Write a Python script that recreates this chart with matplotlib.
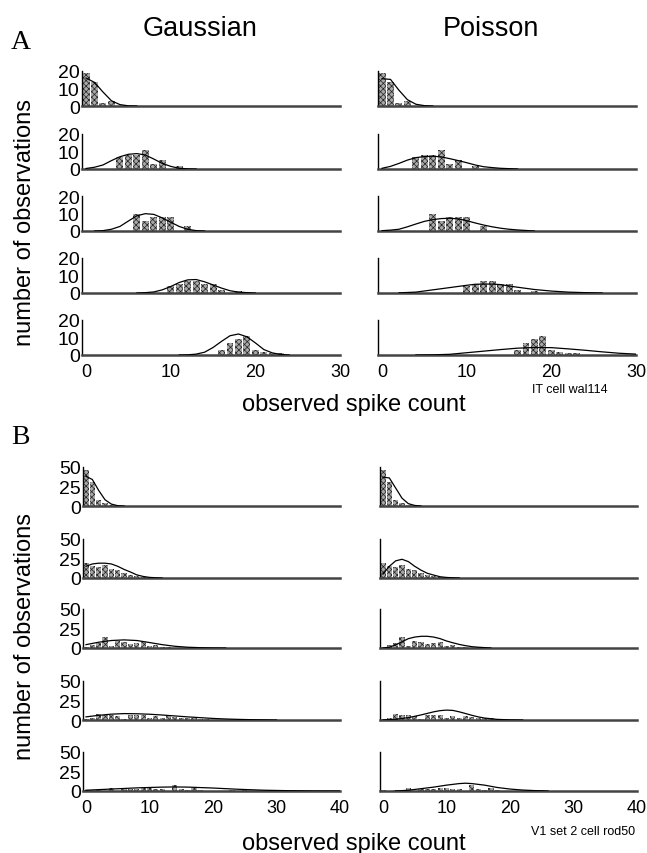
import matplotlib
matplotlib.use("Agg")
import matplotlib.pyplot as plt

W, H = 647, 854

# ---- panel A: IT cell wal114, spike-count histograms (same counts in both columns)
A_BINS = [
    [0, 1, 2, 3],
    [4, 5, 6, 7, 8, 9, 11],
    [6, 7, 8, 9, 10, 12],
    [10, 11, 12, 13, 14, 15, 16, 18],
    [16, 17, 18, 19, 20, 21, 22, 23],
]
A_COUNTS = [
    [19, 14, 2, 3],
    [7, 8, 8, 11, 3, 5, 2],
    [10, 6, 8, 8, 8, 3],
    [4, 5, 7, 7, 5, 5, 2, 1],
    [3, 7, 9, 11, 3, 2, 1, 1],
]
# fitted curves
A_GAUSS_X = [
    [0, 1, 2, 3, 4, 5, 6],
    [0, 1, 2, 3, 4, 5, 6, 7, 8, 9, 10, 11, 12, 13],
    [1, 2, 3, 4, 5, 6, 7, 8, 9, 10, 11, 12, 13, 14],
    [6, 7, 8, 9, 10, 11, 12, 13, 14, 15, 16, 17, 18, 19, 20],
    [11, 12, 13, 14, 15, 16, 17, 18, 19, 20, 21, 22, 23, 24],
]
A_GAUSS_Y = [
    [16, 13.5, 8, 3, 0.8, 0.1, 0],
    [0.3, 1, 2.3, 4.8, 7, 8.4, 8.8, 8, 5.7, 3.2, 1.5, 0.4, 0.1, 0],
    [0, 0.2, 1, 2.6, 5.7, 8.7, 9.9, 9.5, 7.5, 5, 2.6, 1, 0.2, 0],
    [0, 0.2, 0.6, 1.8, 3.7, 6, 7.5, 7.7, 6.4, 4.6, 2.8, 1.3, 0.5, 0.2, 0],
    [0, 0.1, 0.5, 1.6, 4.3, 7.8, 11, 12, 10.4, 6.9, 3.1, 1.2, 0.3, 0],
]
A_POIS_X = [
    [0, 1, 2, 3, 4, 5, 6],
    [0, 1, 2, 3, 4, 5, 6, 7, 8, 9, 10, 11, 12, 13, 14, 15, 16],
    [0, 1, 2, 3, 4, 5, 6, 7, 8, 9, 10, 11, 12, 13, 14, 15, 16, 17, 18],
    [2, 4, 6, 8, 10, 11, 12, 13, 14, 15, 16, 18, 20, 22, 24, 26],
    [4, 6, 8, 10, 12, 14, 16, 18, 20, 22, 24, 26, 28, 30],
]
A_POIS_Y = [
    [15.6, 15.2, 9, 3.6, 1, 0.2, 0],
    [0.4, 1.5, 3.2, 5.1, 6.5, 7.1, 7.3, 6.9, 5.9, 4.8, 3.6, 2.3, 1.3, 0.8, 0.4, 0.2, 0],
    [0.2, 0.5, 1, 2.4, 4, 5.5, 6.5, 7.1, 7.3, 6.9, 5.9, 4.6, 3.4, 2.4, 1.6, 1, 0.6, 0.3, 0],
    [0.1, 0.5, 1.8, 3.1, 4.4, 5, 5.1, 5.1, 4.8, 4, 3.3, 2, 1.1, 0.5, 0.2, 0],
    [0, 0.1, 0.4, 1.3, 2.2, 3.1, 3.9, 4.3, 4.2, 3.5, 2.7, 1.8, 1.0, 0.5],
]

# ---- panel B: V1 set 2 cell rod50
B_BINS = [
    [0, 1, 2, 3, 4],
    [0, 1, 2, 3, 4, 5, 6, 7, 8, 9],
    [0, 1, 2, 3, 4, 5, 6, 7, 8, 9, 10, 11, 12, 13],
    [0, 1, 2, 3, 4, 5, 6, 7, 8, 9, 10, 11, 12, 13, 14, 15, 16, 17, 18, 19],
    [0, 2, 4, 6, 7, 8, 9, 10, 11, 12, 14, 15, 16, 17, 18, 23, 25],
]
B_COUNTS = [
    [46, 31, 8, 4, 1],
    [19, 15, 14, 17, 12, 10, 7, 4, 2, 1],
    [1, 4, 6, 14, 2, 9, 8, 5, 6, 8, 2, 4, 1, 1],
    [1, 3, 8, 7, 7, 5, 1, 7, 7, 7, 3, 5, 3, 5, 4, 2, 2, 2, 1, 1],
    [1, 1, 4, 2, 3, 3, 4, 4, 3, 2, 8, 3, 1, 4, 1, 1, 1],
]
B_GAUSS_X = [
    [0, 1, 2, 3, 4, 5, 6],
    [0, 1, 2, 3, 4, 5, 6, 7, 8, 9, 10, 11, 12],
    [0, 2, 4, 6, 8, 10, 12, 14, 16, 18, 20, 22],
    [0, 2, 4, 6, 8, 10, 12, 14, 16, 18, 20, 22, 24, 26, 28, 30],
    [0, 4, 8, 12, 14, 16, 20, 24, 28, 32, 36, 40],
]
B_GAUSS_Y = [
    [38, 34, 20, 8, 2.4, 0.4, 0],
    [15, 18, 19, 19, 18, 15, 11, 7.7, 4, 2, 0.8, 0.3, 0],
    [4.3, 7.4, 9.6, 10.4, 9.6, 7, 4.3, 2.2, 1, 0.4, 0.1, 0],
    [4, 6, 7.5, 8.2, 8, 7.4, 6.4, 5.2, 4, 3, 2, 1.3, 0.8, 0.4, 0.2, 0],
    [1, 2.5, 4, 5, 5.2, 5, 3.8, 2.2, 1, 0.4, 0.1, 0],
]
B_POIS_X = [
    [0, 1, 2, 3, 4, 5, 6],
    [0, 1, 2, 3, 4, 5, 6, 7, 8, 9, 10, 11, 12],
    [0, 1, 2, 3, 4, 5, 6, 7, 8, 9, 10, 11, 12, 13, 14, 15, 16, 17],
    [0, 2, 4, 6, 8, 9, 10, 11, 12, 13, 14, 15, 16, 18, 20, 22],
    [2, 4, 6, 8, 10, 12, 13, 14, 16, 18, 20, 22, 24, 26],
]
B_POIS_Y = [
    [37, 36, 23, 10, 3, 0.7, 0],
    [5, 15, 22, 24, 21, 15, 10, 6, 3.7, 1.6, 0.7, 0.3, 0],
    [0, 1, 4, 8, 12, 14, 15, 15, 14, 12, 9, 6.7, 4.6, 3, 1.7, 1, 0.5, 0],
    [0.1, 1, 3, 6.5, 10.5, 12, 12.7, 12.3, 10.5, 8.3, 6, 4, 2.5, 0.8, 0.2, 0],
    [0, 1, 3, 5, 7.5, 9.5, 10, 9.5, 7.5, 4.5, 2.5, 1.2, 0.5, 0],
]

A_YTICKS = [0, 10, 20]
B_YTICKS = [0, 25, 50]
A_XTICKS = [0, 10, 20, 30]
B_XTICKS = [0, 10, 20, 30, 40]

SANS = "Liberation Sans"
SERIF = "Liberation Serif"
plt.rcParams["font.family"] = SANS
plt.rcParams["hatch.linewidth"] = 0.5
plt.rcParams["hatch.color"] = "#222222"


def px_axes(fig, left, base, width, height):
    """Axes placed in pixel coordinates (base = y of the x axis from the top)."""
    return fig.add_axes([left / W, 1 - base / H, width / W, height / H])


def draw_panel(ax, bins, counts, cx, cy, xmax, ymax, yticks, xticks,
               show_y, show_x):
    ax.bar(bins, counts, width=0.82, color="#a8a8a8", edgecolor="#222222",
           hatch="xxxxxx", lw=0, zorder=2)
    ax.plot(cx, cy, color="black", lw=0.9, zorder=3)
    ax.set_xlim(-0.5, xmax)
    ax.set_ylim(0, ymax)
    for s in ("top", "right"):
        ax.spines[s].set_visible(False)
    ax.spines["left"].set_linewidth(1.0)
    ax.spines["bottom"].set_linewidth(1.8)
    ax.spines["bottom"].set_color("#444444")
    ax.set_yticks(yticks)
    ax.set_xticks(xticks)
    ax.tick_params(length=0)
    ax.tick_params(axis="y", pad=1.5, labelsize=14)
    ax.tick_params(axis="x", pad=6, labelsize=13)
    if not show_y:
        ax.set_yticklabels([])
    if not show_x:
        ax.set_xticklabels([])
    ax.patch.set_alpha(0)


fig = plt.figure(figsize=(W / 100, H / 100), dpi=100)

# panel A rows
a_base = [107, 170, 232, 294, 356]
for i, base in enumerate(a_base):
    last = i == len(a_base) - 1
    ax = px_axes(fig, 81.8, base, 258.3, 35)
    draw_panel(ax, A_BINS[i], A_COUNTS[i], A_GAUSS_X[i], A_GAUSS_Y[i],
               30, 20, A_YTICKS, A_XTICKS, True, last)
    ax = px_axes(fig, 377.8, base, 258.3, 35)
    draw_panel(ax, A_BINS[i], A_COUNTS[i], A_POIS_X[i], A_POIS_Y[i],
               30, 20, A_YTICKS, A_XTICKS, False, last)

# panel B rows
b_base = [507, 579, 649, 721, 792]
for i, base in enumerate(b_base):
    last = i == len(b_base) - 1
    ax = px_axes(fig, 82.8, base, 257.2, 39)
    draw_panel(ax, B_BINS[i], B_COUNTS[i], B_GAUSS_X[i], B_GAUSS_Y[i],
               40, 50, B_YTICKS, B_XTICKS, True, last)
    ax = px_axes(fig, 379.8, base, 257.2, 39)
    draw_panel(ax, B_BINS[i], B_COUNTS[i], B_POIS_X[i], B_POIS_Y[i],
               40, 50, B_YTICKS, B_XTICKS, False, last)


def ftext(x, y, s, **kw):
    fig.text(x / W, 1 - y / H, s, **kw)


ftext(200, 36, "Gaussian", ha="center", va="baseline", fontsize=19.5)
ftext(491, 36, "Poisson", ha="center", va="baseline", fontsize=19.5)
ftext(11, 49, "A", ha="left", va="baseline", fontsize=20, family=SERIF)
ftext(11, 444, "B", ha="left", va="baseline", fontsize=20, family=SERIF)

ftext(25, 222, "number of observations", ha="center", va="center",
      rotation=90, fontsize=17)
ftext(25, 637, "number of observations", ha="center", va="center",
      rotation=90, fontsize=17)
ftext(354, 411, "observed spike count", ha="center", va="baseline", fontsize=17)
ftext(354, 850, "observed spike count", ha="center", va="baseline", fontsize=17)

ftext(532, 393, "IT cell wal114", ha="left", va="baseline", fontsize=9)
ftext(635, 835, "V1 set 2 cell rod50", ha="right", va="baseline", fontsize=9)

fig.savefig("out.png", dpi=100)
